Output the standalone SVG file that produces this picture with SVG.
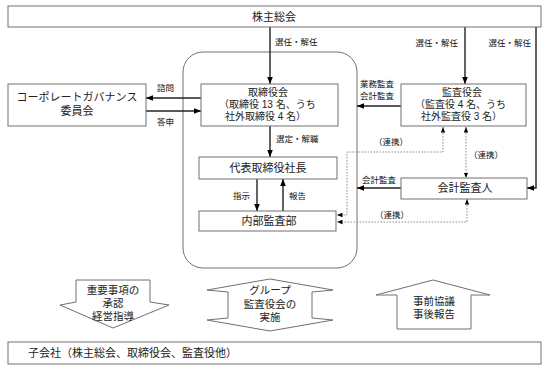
<svg xmlns="http://www.w3.org/2000/svg" width="550" height="371" viewBox="0 0 550 371">
<defs>
<marker id="ah" viewBox="0 0 10 10" refX="10" refY="5" markerWidth="7" markerHeight="7" markerUnits="userSpaceOnUse" orient="auto-start-reverse"><path d="M0,1L10,5L0,9z" fill="#000"/></marker>
<marker id="ad" viewBox="0 0 10 10" refX="10" refY="5" markerWidth="5.5" markerHeight="5.5" markerUnits="userSpaceOnUse" orient="auto-start-reverse"><path d="M0,1L10,5L0,9z" fill="#000"/></marker>
</defs>
<style>
text{font-family:"Liberation Sans","Noto Sans CJK JP",sans-serif;fill:#222}
.box{fill:#fff;stroke:#707070;stroke-width:1}
.t{font-size:11px;text-anchor:middle}
.tm{font-size:10px}
.tl{font-size:10px}
.b{font-size:10.5px;text-anchor:middle}
.s{font-size:8.5px;fill:#111}
.se{font-size:8.5px;fill:#111;text-anchor:end}
.ln{fill:none;stroke:#222;stroke-width:1.4}
.dt{fill:none;stroke:#8a8a8a;stroke-width:1;stroke-dasharray:1.5 1.5}
</style>
<rect x="0" y="0" width="550" height="371" fill="#fff"/>

<g id="group-board-area">
<rect x="183" y="52" width="174" height="216" rx="20" ry="20" fill="none" stroke="#707070" stroke-width="1"/>
</g>

<g id="connectors">
<path class="ln" d="M270,27V84" marker-end="url(#ah)"/>
<path class="ln" d="M465,27V84" marker-end="url(#ah)"/>
<path class="ln" d="M536,27V188H527" marker-end="url(#ah)"/>
<path class="ln" d="M201,98H146" marker-end="url(#ah)"/>
<path class="ln" d="M146,111H201" marker-end="url(#ah)"/>
<path class="ln" d="M270,126V157" marker-end="url(#ah)"/>
<path class="ln" d="M257,179V211" marker-end="url(#ah)"/>
<path class="ln" d="M283,211V179" marker-end="url(#ah)"/>
<path class="ln" d="M401,106H357" marker-end="url(#ah)"/>
<path class="ln" d="M401,188H357" marker-end="url(#ah)"/>
<path class="dt" d="M443,127V152H347V215H337" marker-start="url(#ad)" marker-end="url(#ad)"/>
<path class="dt" d="M466,127V178" marker-start="url(#ad)" marker-end="url(#ad)"/>
<path class="dt" d="M467,199V222H337" marker-start="url(#ad)" marker-end="url(#ad)"/>
<text class="s" x="275" y="45">選任・解任</text>
<text class="se" x="458" y="46">選任・解任</text>
<text class="se" x="531" y="46">選任・解任</text>
<text class="s" x="157" y="91">諮問</text>
<text class="s" x="157" y="125">答申</text>
<text class="s" x="276" y="142">選定・解職</text>
<text class="s" x="233" y="199">指示</text>
<text class="s" x="289" y="199">報告</text>
<text class="s" x="360" y="87">業務監査</text>
<text class="s" x="360" y="99">会計監査</text>
<text class="s" x="362" y="183">会計監査</text>
<text class="s" x="374" y="145">（連携）</text>
<text class="s" x="469" y="158">（連携）</text>
<text class="s" x="375" y="218">（連携）</text>
</g>

<g id="shareholders">
<rect class="box" x="8" y="6" width="533" height="21"/>
<text class="t" x="274" y="20.5">株主総会</text>
</g>

<g id="governance-committee">
<rect class="box" x="8" y="84" width="138" height="42"/>
<text class="t" x="77" y="101">コーポレートガバナンス</text>
<text class="t" x="77" y="115">委員会</text>
</g>

<g id="board">
<rect class="box" x="201" y="84" width="137" height="42"/>
<text class="tm" x="248" y="95.5">取締役会</text>
<text class="tl" x="219" y="107.5">（取締役 13 名、うち</text>
<text class="tl" x="225" y="119.5">社外取締役 4 名）</text>
</g>

<g id="president">
<rect class="box" x="199" y="157" width="138" height="22"/>
<text class="t" x="268" y="172">代表取締役社長</text>
</g>

<g id="internal-audit">
<rect class="box" x="199" y="211" width="137" height="20"/>
<text class="t" x="269" y="225">内部監査部</text>
</g>

<g id="audit-board">
<rect class="box" x="401" y="84" width="125" height="42"/>
<text class="tm" x="442" y="95.5">監査役会</text>
<text class="tl" x="415" y="107.5">（監査役 4 名、うち</text>
<text class="tl" x="421" y="119.5">社外監査役 3 名）</text>
</g>

<g id="accounting-auditor">
<rect class="box" x="401" y="178" width="126" height="21"/>
<text class="t" x="465" y="192">会計監査人</text>
</g>

<g id="arrow-approval">
<polygon class="box" points="76,280 150,280 150,302 169,305 113,328 60,305 76,302"/>
<text class="b" x="113" y="294">重要事項の</text>
<text class="b" x="113" y="307">承認</text>
<text class="b" x="113" y="320">経営指導</text>
</g>

<g id="arrow-group-audit">
<polygon class="box" points="270,279 333,290 312,292 312,318 333,320 270,331 207,320 228,318 228,292 207,290"/>
<text class="b" x="270" y="294">グループ</text>
<text class="b" x="270" y="308">監査役会の</text>
<text class="b" x="270" y="321">実施</text>
</g>

<g id="arrow-consult">
<polygon class="box" points="433,280 490,295 471,295 471,329 397,329 397,295 376,295"/>
<text class="b" x="434" y="305">事前協議</text>
<text class="b" x="434" y="318">事後報告</text>
</g>

<g id="subsidiaries">
<rect class="box" x="8" y="342" width="533" height="22"/>
<text class="tl" x="28" y="357" style="font-size:11px">子会社（株主総会、取締役会、監査役他）</text>
</g>
</svg>
